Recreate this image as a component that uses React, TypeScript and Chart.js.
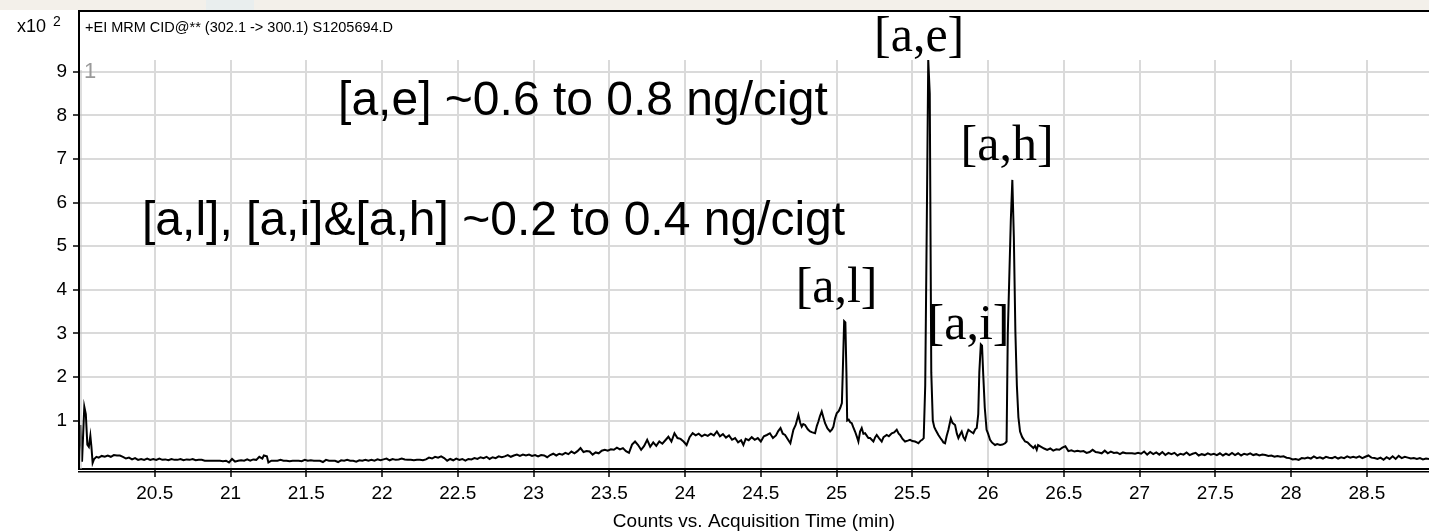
import React, { useEffect, useRef } from "react";
import { Chart, registerables } from "chart.js";

Chart.register(...registerables);

// ---------- data (x10^2 counts vs. acquisition time, min) ----------
const xTickValues = [20.5, 21, 21.5, 22, 22.5, 23, 23.5, 24, 24.5, 25, 25.5, 26, 26.5, 27, 27.5, 28, 28.5];
const yTickValues = [1, 2, 3, 4, 5, 6, 7, 8, 9];

const traceEarly: [number, number][] = [
  [20.0, 0.3], [20.01, 0.9], [20.02, 0.06], [20.035, 1.32], [20.045, 1.15], [20.055, 0.45], [20.065, 0.4],
  [20.075, 0.65], [20.082, 0.4], [20.09, 0.03], [20.1, 0.12], [20.115, 0.17], [20.13, 0.15], [20.15, 0.19],
  [20.17, 0.17], [20.19, 0.2], [20.21, 0.17], [20.23, 0.21], [20.25, 0.2], [20.27, 0.2], [20.29, 0.17],
  [20.31, 0.13], [20.33, 0.15], [20.35, 0.11], [20.37, 0.14], [20.39, 0.1], [20.41, 0.12], [20.43, 0.1],
  [20.45, 0.13], [20.47, 0.1], [20.49, 0.12], [20.51, 0.1], [20.53, 0.13], [20.55, 0.1], [20.57, 0.11],
  [20.59, 0.09], [20.61, 0.12], [20.63, 0.1], [20.65, 0.1], [20.67, 0.12], [20.69, 0.09], [20.71, 0.11],
  [20.73, 0.1], [20.75, 0.12], [20.77, 0.09], [20.79, 0.1], [20.81, 0.1], [20.83, 0.08], [20.85, 0.08],
  [20.87, 0.08], [20.89, 0.08], [20.91, 0.08], [20.93, 0.08], [20.95, 0.07], [20.97, 0.08], [20.99, 0.04],
  [21.01, 0.12], [21.03, 0.06], [21.05, 0.08], [21.07, 0.09], [21.09, 0.08], [21.11, 0.11], [21.13, 0.08],
  [21.15, 0.11], [21.17, 0.1], [21.19, 0.17], [21.21, 0.13], [21.22, 0.2], [21.24, 0.18], [21.25, 0.04],
  [21.27, 0.08], [21.29, 0.08], [21.31, 0.08], [21.33, 0.1], [21.35, 0.08], [21.37, 0.08], [21.39, 0.07],
  [21.41, 0.08], [21.43, 0.08], [21.45, 0.08], [21.47, 0.07], [21.49, 0.1], [21.51, 0.08], [21.53, 0.09],
  [21.55, 0.08], [21.57, 0.08], [21.59, 0.08], [21.61, 0.05], [21.63, 0.1], [21.65, 0.08], [21.67, 0.08],
  [21.69, 0.08], [21.71, 0.05], [21.73, 0.09], [21.75, 0.08], [21.77, 0.1], [21.79, 0.08], [21.81, 0.08],
  [21.83, 0.06], [21.85, 0.09], [21.87, 0.08], [21.89, 0.1], [21.91, 0.08], [21.93, 0.1], [21.95, 0.08],
  [21.97, 0.11], [21.99, 0.09], [22.01, 0.11], [22.03, 0.13], [22.05, 0.09], [22.07, 0.12], [22.09, 0.1],
  [22.11, 0.11], [22.13, 0.13], [22.15, 0.11], [22.17, 0.1],
];

const traceMid: [number, number][] = [
  [22.19, 0.1], [22.21, 0.09], [22.23, 0.1], [22.25, 0.1], [22.27, 0.09], [22.29, 0.11], [22.31, 0.15],
  [22.33, 0.13], [22.35, 0.17], [22.37, 0.15], [22.39, 0.18], [22.41, 0.14], [22.43, 0.08], [22.45, 0.12],
  [22.47, 0.09], [22.49, 0.13], [22.51, 0.1], [22.53, 0.12], [22.55, 0.08], [22.57, 0.12], [22.59, 0.11],
  [22.61, 0.14], [22.63, 0.12], [22.65, 0.16], [22.67, 0.14], [22.69, 0.17], [22.71, 0.12], [22.73, 0.16],
  [22.75, 0.14], [22.77, 0.18], [22.79, 0.16], [22.81, 0.18], [22.83, 0.21], [22.85, 0.17], [22.87, 0.2],
  [22.89, 0.22], [22.91, 0.19], [22.93, 0.22], [22.95, 0.2], [22.97, 0.22], [22.99, 0.19], [23.01, 0.21],
  [23.03, 0.18], [23.05, 0.21], [23.07, 0.2], [23.09, 0.16], [23.11, 0.21], [23.13, 0.24], [23.15, 0.2],
  [23.17, 0.24], [23.19, 0.22], [23.21, 0.26], [23.23, 0.23], [23.25, 0.29], [23.27, 0.25], [23.29, 0.3],
  [23.31, 0.37], [23.33, 0.28], [23.35, 0.3], [23.37, 0.29], [23.39, 0.22], [23.41, 0.27], [23.43, 0.25],
  [23.45, 0.31], [23.47, 0.33], [23.49, 0.31], [23.51, 0.34], [23.53, 0.33], [23.55, 0.38], [23.57, 0.34],
  [23.59, 0.37], [23.61, 0.3], [23.63, 0.26], [23.65, 0.45], [23.67, 0.52], [23.69, 0.44], [23.71, 0.33],
  [23.73, 0.42], [23.75, 0.56], [23.77, 0.4], [23.79, 0.5], [23.81, 0.42], [23.83, 0.52], [23.85, 0.47],
  [23.87, 0.55], [23.89, 0.63], [23.91, 0.52], [23.93, 0.71], [23.95, 0.6], [23.97, 0.58], [23.99, 0.52],
  [24.01, 0.44], [24.03, 0.62], [24.05, 0.71], [24.07, 0.66], [24.09, 0.7], [24.11, 0.64], [24.13, 0.68],
  [24.15, 0.65], [24.17, 0.7], [24.19, 0.66], [24.21, 0.75], [24.23, 0.64], [24.25, 0.69], [24.27, 0.61],
  [24.29, 0.66], [24.31, 0.56], [24.33, 0.6], [24.35, 0.5],
];

const tracePeaks: [number, number][] = [
  [24.37, 0.55], [24.385, 0.44], [24.4, 0.58], [24.42, 0.55], [24.44, 0.62], [24.46, 0.56], [24.48, 0.6],
  [24.5, 0.52], [24.52, 0.64], [24.54, 0.67], [24.56, 0.71], [24.58, 0.6], [24.6, 0.66], [24.615, 0.76],
  [24.63, 0.83], [24.645, 0.7], [24.66, 0.67], [24.68, 0.56], [24.695, 0.48], [24.715, 0.79], [24.73, 0.9],
  [24.748, 1.13], [24.76, 0.95], [24.77, 0.86], [24.78, 0.92], [24.792, 0.9], [24.81, 0.8], [24.825, 0.75],
  [24.84, 0.73], [24.858, 0.71], [24.87, 0.88], [24.88, 0.98], [24.89, 1.1], [24.902, 1.21], [24.915, 1.05],
  [24.924, 0.94], [24.94, 0.82], [24.957, 0.75], [24.97, 0.8], [24.979, 0.86], [24.99, 1.05], [25.001, 1.17],
  [25.015, 1.22], [25.025, 1.3], [25.035, 1.4], [25.04, 2.0], [25.05, 3.28], [25.058, 3.25], [25.065, 2.1],
  [25.07, 1.0], [25.08, 1.02], [25.09, 0.96], [25.1, 0.94], [25.11, 0.85], [25.122, 0.75], [25.135, 0.62],
  [25.144, 0.52], [25.155, 0.75], [25.166, 0.83], [25.177, 0.7], [25.188, 0.71], [25.2, 0.65], [25.21, 0.6],
  [25.221, 0.6], [25.232, 0.56], [25.243, 0.52], [25.255, 0.62], [25.265, 0.67], [25.28, 0.6], [25.298, 0.52],
  [25.31, 0.62], [25.331, 0.67], [25.345, 0.64], [25.364, 0.71], [25.38, 0.73], [25.397, 0.79], [25.41, 0.7],
  [25.419, 0.67], [25.435, 0.58], [25.452, 0.52], [25.47, 0.54], [25.485, 0.56], [25.5, 0.53], [25.518, 0.52],
  [25.53, 0.5], [25.54, 0.48], [25.555, 0.54], [25.565, 0.56], [25.575, 0.6], [25.585, 1.8], [25.595, 5.4],
  [25.605, 9.27], [25.615, 8.5], [25.625, 2.1], [25.635, 1.0], [25.645, 0.85], [25.655, 0.78], [25.672, 0.67],
  [25.685, 0.6], [25.694, 0.56], [25.705, 0.5], [25.716, 0.48], [25.727, 0.65], [25.738, 0.79], [25.754, 1.05],
  [25.765, 0.95], [25.782, 0.9], [25.794, 0.7], [25.804, 0.6], [25.815, 0.68], [25.826, 0.75], [25.837, 0.62],
  [25.848, 0.56], [25.86, 0.7], [25.87, 0.79], [25.885, 0.75], [25.903, 0.71], [25.915, 0.8], [25.925, 0.83],
  [25.935, 1.15], [25.942, 2.1], [25.952, 2.75], [25.96, 2.72], [25.968, 2.05], [25.978, 1.3], [25.99, 0.79],
  [26.0, 0.7], [26.013, 0.56], [26.025, 0.5], [26.046, 0.44], [26.06, 0.46], [26.079, 0.44], [26.095, 0.45],
  [26.112, 0.48], [26.122, 0.52], [26.13, 3.0], [26.14, 4.3], [26.15, 5.6], [26.16, 6.52], [26.17, 5.2],
  [26.18, 3.05], [26.19, 1.8], [26.2, 1.08], [26.211, 0.75], [26.225, 0.62], [26.244, 0.52], [26.26, 0.5],
  [26.277, 0.44], [26.29, 0.4], [26.299, 0.37], [26.31, 0.42], [26.321, 0.33],
];

const traceLate: [number, number][] = [
  [26.33, 0.44], [26.35, 0.4], [26.37, 0.36], [26.39, 0.33], [26.41, 0.36], [26.43, 0.31], [26.45, 0.34],
  [26.47, 0.33], [26.49, 0.38], [26.51, 0.41], [26.53, 0.3], [26.55, 0.32], [26.57, 0.29], [26.59, 0.31],
  [26.61, 0.29], [26.63, 0.3], [26.65, 0.26], [26.67, 0.28], [26.69, 0.33], [26.71, 0.28], [26.73, 0.27],
  [26.75, 0.25], [26.77, 0.31], [26.79, 0.25], [26.81, 0.29], [26.83, 0.26], [26.85, 0.27], [26.87, 0.23],
  [26.89, 0.27], [26.91, 0.25], [26.93, 0.25], [26.95, 0.25], [26.97, 0.24], [26.99, 0.26], [27.01, 0.24],
  [27.03, 0.29], [27.05, 0.22], [27.07, 0.28], [27.09, 0.23], [27.11, 0.27], [27.13, 0.22], [27.15, 0.28],
  [27.17, 0.21], [27.19, 0.26], [27.21, 0.23], [27.23, 0.26], [27.25, 0.2], [27.27, 0.24], [27.29, 0.22],
  [27.31, 0.27], [27.33, 0.21], [27.35, 0.24], [27.37, 0.26], [27.39, 0.2], [27.41, 0.23], [27.43, 0.21],
  [27.45, 0.25], [27.47, 0.22], [27.49, 0.24], [27.51, 0.21], [27.53, 0.25], [27.55, 0.2], [27.57, 0.24],
  [27.59, 0.21], [27.61, 0.26], [27.63, 0.21], [27.65, 0.25], [27.67, 0.2], [27.69, 0.24], [27.71, 0.22],
  [27.73, 0.25], [27.75, 0.21], [27.77, 0.23], [27.79, 0.2], [27.81, 0.22], [27.83, 0.21], [27.85, 0.19],
  [27.87, 0.2], [27.89, 0.17], [27.91, 0.19], [27.93, 0.17], [27.95, 0.18], [27.97, 0.15], [27.99, 0.14],
  [28.01, 0.11], [28.03, 0.12], [28.05, 0.1], [28.07, 0.14], [28.09, 0.13], [28.11, 0.15], [28.13, 0.13],
  [28.15, 0.18], [28.17, 0.14], [28.19, 0.16], [28.21, 0.13], [28.23, 0.17], [28.25, 0.15], [28.27, 0.14],
  [28.29, 0.17], [28.31, 0.13], [28.33, 0.16], [28.35, 0.14], [28.37, 0.18], [28.39, 0.15], [28.41, 0.17],
  [28.43, 0.15], [28.45, 0.18], [28.47, 0.14], [28.49, 0.17], [28.51, 0.2], [28.53, 0.15], [28.55, 0.14],
  [28.57, 0.12], [28.59, 0.15], [28.61, 0.1], [28.63, 0.16], [28.65, 0.12], [28.67, 0.18], [28.69, 0.12],
  [28.71, 0.19], [28.73, 0.14], [28.75, 0.17], [28.77, 0.15], [28.79, 0.13], [28.81, 0.14], [28.83, 0.12],
  [28.85, 0.14], [28.87, 0.11], [28.89, 0.13], [28.91, 0.12],
];

const peakLabels = ["[a,e]", "[a,h]", "[a,l]", "[a,i]"];
const noteLines = ["[a,e] ~0.6 to 0.8 ng/cigt", "[a,l], [a,i]&[a,h] ~0.2 to 0.4 ng/cigt"];
const headerText = "+EI MRM CID@** (302.1 -> 300.1) S1205694.D";
const scaleText = "x10";
const scaleExponent = "2";
const traceNumber = "1";
const xAxisTitle = "Counts vs. Acquisition Time (min)";

// ---------- layout (positions in axis units) ----------
const peakLabelAnchors = [
  { t: 25.545, v: 9.78 },
  { t: 26.125, v: 7.28 },
  { t: 25.0, v: 4.01 },
  { t: 25.871, v: 3.17 },
];
const noteAnchors = [
  { t: 21.71, v: 8.32 },
  { t: 20.416, v: 5.57 },
];

const SANS = "'Liberation Sans', Arial, Helvetica, sans-serif";
const SERIF = "'Liberation Serif', 'Times New Roman', Times, serif";

export default function App() {
  const canvasRef = useRef<HTMLCanvasElement>(null);

  useEffect(() => {
    const canvas = canvasRef.current;
    if (!canvas) return;
    const points = [...traceEarly, ...traceMid, ...tracePeaks, ...traceLate].map(([x, y]) => ({ x, y }));

    const overlay = {
      id: "overlay",
      beforeDraw(chart: any) {
        const ctx = chart.ctx;
        ctx.save();
        ctx.fillStyle = "#ffffff";
        ctx.fillRect(0, 0, chart.width, chart.height);
        ctx.fillStyle = "#f3f0ea";
        ctx.fillRect(0, 0, chart.width, 10);
        ctx.fillStyle = "#e9eeee";
        ctx.fillRect(206, 0, 48, 10);
        ctx.restore();
      },
      afterDraw(chart: any) {
        const ctx = chart.ctx;
        const area = chart.chartArea;
        const xs = chart.scales.x;
        const ys = chart.scales.y;
        ctx.save();
        // frame
        ctx.fillStyle = "#000";
        ctx.fillRect(area.left - 1, 10, chart.width - area.left + 1, 2);
        ctx.fillRect(area.left - 1, 10, 2, area.top - 9);
        ctx.fillRect(area.left - 1, area.bottom + 2, chart.width - area.left + 1, 1.5);
        ctx.fillStyle = "#bdbdbd";
        ctx.fillRect(area.left + 1.5, area.top + 10, 1, area.bottom - area.top - 10);

        // header texts
        ctx.fillStyle = "#000";
        ctx.textBaseline = "alphabetic";
        ctx.textAlign = "left";
        ctx.font = `18px ${SANS}`;
        ctx.fillText(scaleText, 17, 32);
        ctx.font = `14px ${SANS}`;
        ctx.fillText(scaleExponent, 53, 26);
        ctx.font = `14.5px ${SANS}`;
        ctx.fillText(headerText, 85, 31.5);

        ctx.fillStyle = "#9a9a9a";
        ctx.font = `22px ${SANS}`;
        ctx.fillText(traceNumber, 84, 78);

        // notes
        ctx.fillStyle = "#000";
        ctx.font = `48px ${SANS}`;
        ctx.textBaseline = "middle";
        noteLines.forEach((txt, i) => {
          const a = noteAnchors[i];
          ctx.fillText(txt, xs.getPixelForValue(a.t), ys.getPixelForValue(a.v));
        });

        // peak labels
        ctx.font = `50px ${SERIF}`;
        ctx.textAlign = "center";
        peakLabels.forEach((txt, i) => {
          const a = peakLabelAnchors[i];
          ctx.fillText(txt, xs.getPixelForValue(a.t), ys.getPixelForValue(a.v));
        });
        ctx.restore();
      },
    };

    const chart = new Chart(canvas, {
      type: "line",
      data: {
        datasets: [
          {
            data: points,
            borderColor: "#000",
            borderWidth: 2,
            pointRadius: 0,
            tension: 0,
            fill: false,
          },
        ],
      },
      options: {
        animation: false,
        responsive: false,
        maintainAspectRatio: false,
        events: [],
        layout: { padding: { top: 60, left: 0, right: 0, bottom: 0 } },
        plugins: { legend: { display: false }, tooltip: { enabled: false } },
        scales: {
          x: {
            type: "linear",
            min: 20,
            max: 28.91,
            afterBuildTicks: (s: any) => {
              s.ticks = xTickValues.map((v) => ({ value: v }));
            },
            afterFit: (s: any) => {
              s.height = 63;
            },
            grid: { color: "#dadada", lineWidth: 2, tickColor: "#000", tickLength: 8, tickWidth: 1.5 },
            border: { color: "#000", width: 2 },
            ticks: {
              color: "#000",
              font: { family: SANS, size: 19 },
              padding: 5,
              maxRotation: 0,
              autoSkip: false,
              callback: (v: any) => String(v),
            },
            title: {
              display: true,
              text: xAxisTitle,
              color: "#000",
              font: { family: SANS, size: 19 },
              padding: { top: 0, bottom: -1 },
            },
          },
          y: {
            type: "linear",
            min: -0.11,
            max: 9.27,
            afterBuildTicks: (s: any) => {
              s.ticks = yTickValues.map((v) => ({ value: v }));
            },
            afterFit: (s: any) => {
              s.width = 79;
            },
            grid: { color: "#dadada", lineWidth: 2, tickColor: "#000", tickLength: 6, tickWidth: 1.5 },
            border: { color: "#000", width: 2 },
            ticks: {
              color: "#000",
              font: { family: SANS, size: 19 },
              padding: 6,
              autoSkip: false,
              callback: (v: any) => String(v),
            },
          },
        },
      },
      plugins: [overlay],
    });
    return () => chart.destroy();
  }, []);

  return (
    <div style={{ position: "fixed", left: 0, top: 0, width: 1429, height: 532, background: "#fff", overflow: "hidden" }}>
      <canvas ref={canvasRef} width={1429} height={532} style={{ display: "block", width: 1429, height: 532 }} />
    </div>
  );
}
